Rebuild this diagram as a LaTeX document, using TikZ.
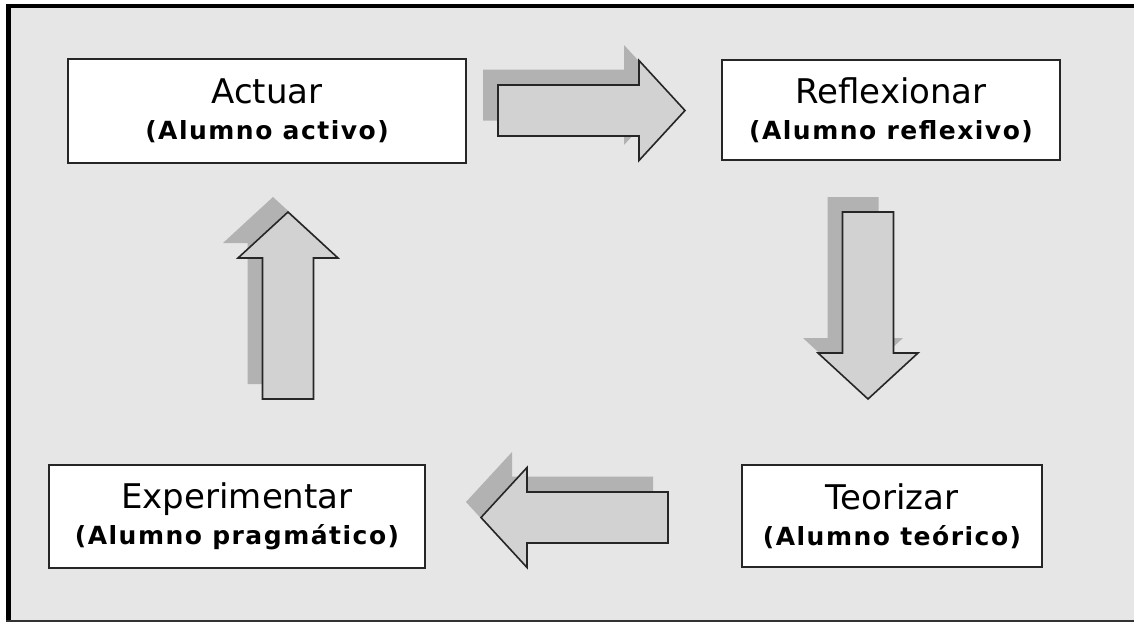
\documentclass[tikz,border=0pt]{standalone}
\usepackage{fontspec}
\setmainfont{DejaVu Sans}
\definecolor{fondo}{HTML}{E6E6E6}
\definecolor{flechagris}{HTML}{D2D2D2}
\definecolor{sombragris}{HTML}{B2B2B2}
\definecolor{borde}{HTML}{262626}
\newcommand{\alumno}[1]{{\bfseries\fontsize{25}{36}\selectfont\addfontfeatures{LetterSpace=6}#1}}

\begin{document}
\begin{tikzpicture}[x=1pt,y=-1pt,
	caja/.style={draw=borde, line width=1.6pt, fill=white, inner sep=0pt, align=center, font=\fontsize{34}{36}\selectfont},
	flecha/.pic={\path[pic actions] (0,-25.5) -- (141,-25.5) -- (141,-50) -- (187,0) -- (141,50) -- (141,25.5) -- (0,25.5) -- cycle;},
	sombra/.style={fill=sombragris},
	cuerpo/.style={draw=borde, line width=1.6pt, line join=miter, fill=flechagris}]
	\useasboundingbox (0,0) rectangle (1134,622);
	\fill[white] (0,0) rectangle (1134,622);
	\fill[fondo] (8,6) rectangle (1134,621);
	\draw[line width=5pt] (8.5,4) -- (8.5,622);
	\draw[line width=4pt] (6,6) -- (1134,6);
	\draw[line width=2pt, black!80] (6,621) -- (1134,621);

	\node[caja, minimum width=398pt, minimum height=104pt] (act) at (267,111) {Actuar\\\alumno{(Alumno activo)}};
	\node[caja, minimum width=338pt, minimum height=100pt] (ref) at (891,110) {Reflexionar\\\alumno{(Alumno reflexivo)}};
	\node[caja, minimum width=300pt, minimum height=102pt] (teo) at (892,516) {Teorizar\\\alumno{(Alumno teórico)}};
	\node[caja, minimum width=376pt, minimum height=103pt] (exp) at (237,516.5) {Experimentar\\\alumno{(Alumno pragmático)}};

	\pic[sombra] at (483,95) {flecha};
	\pic[cuerpo] at (498,110.5) {flecha};
	\pic[sombra, rotate=-90] at (853,197) {flecha};
	\pic[cuerpo, rotate=-90] at (868,212) {flecha};
	\pic[sombra, rotate=180] at (653,502) {flecha};
	\pic[cuerpo, rotate=180] at (668,517.5) {flecha};
	\pic[sombra, rotate=90] at (273,384) {flecha};
	\pic[cuerpo, rotate=90] at (288,399) {flecha};
\end{tikzpicture}
\end{document}
